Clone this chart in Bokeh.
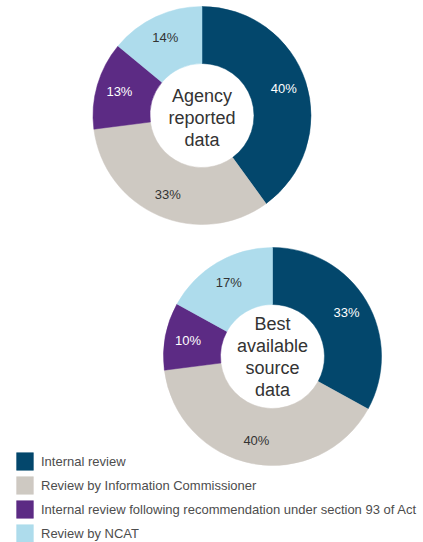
import numpy as np
from bokeh.plotting import figure
from bokeh.models import Range1d, ColumnDataSource, Legend, LegendItem
from bokeh.core.properties import value
from bokeh.embed import file_html
from bokeh.resources import INLINE

# ---- data ----
categories = [
    "Internal review",
    "Review by Information Commissioner",
    "Internal review following recommendation under section 93 of Act",
    "Review by NCAT",
]
agency_values = [40, 33, 13, 14]
best_values = [33, 40, 10, 17]
agency_title = "Agency\nreported\ndata"
best_title = "Best\navailable\nsource\ndata"

# ---- styles ----
colors = ["#03476C", "#CEC9C2", "#5C2B84", "#AEDCEC"]
label_colors = ["#FFFFFF", "#333333", "#FFFFFF", "#333333"]
FONT = "Liberation Sans"
W, H = 423, 542
R_OUT, R_IN, R_LAB = 109, 52, 86

p = figure(width=W, height=H, x_range=Range1d(0, W), y_range=Range1d(0, H),
           output_backend="svg", toolbar_location=None, x_axis_type=None, y_axis_type=None,
           min_border=0, outline_line_color=None)
p.background_fill_color = "white"
p.border_fill_color = "white"


def donut(vals, cx, cy, title, title_dy=0):
    v = np.array(vals, dtype=float)
    frac = v / v.sum()
    cum = np.concatenate([[0.0], np.cumsum(frac)])
    start = np.pi / 2 - cum[:-1] * 2 * np.pi
    end = np.pi / 2 - cum[1:] * 2 * np.pi
    mid = (start + end) / 2
    src = ColumnDataSource(dict(
        start=start, end=end, color=colors, cat=categories,
        lx=cx + R_LAB * np.cos(mid), ly=cy + R_LAB * np.sin(mid),
        lab=[f"{x:g}%" for x in vals], lc=label_colors,
    ))
    r = p.annular_wedge(x=cx, y=cy, inner_radius=R_IN, outer_radius=R_OUT,
                        start_angle="start", end_angle="end", direction="clock",
                        fill_color="color", line_color="color", line_width=0.5, source=src)
    p.text(x="lx", y="ly", text="lab", text_color="lc", text_align="center",
           text_baseline="middle", text_font=value(FONT), text_font_size="13px", source=src)
    p.text(x=[cx], y=[cy + title_dy], text=[title], text_color="#333333", text_align="center",
           text_baseline="middle", text_font=value(FONT), text_font_size="18px",
           text_line_height=1.1)
    return r


r1 = donut(agency_values, 201.5, H - 115, agency_title, title_dy=-2)
r2 = donut(best_values, 272, H - 356, best_title)

items = [LegendItem(label=c, renderers=[r1], index=i) for i, c in enumerate(categories)]
legend = Legend(items=items, location=(14, -2), orientation="vertical",
                glyph_width=21, glyph_height=22, label_height=22, spacing=2,
                label_standoff=6, padding=0, margin=0,
                label_text_font=FONT, label_text_font_size="13px", label_text_color="#4d4d4d",
                background_fill_alpha=0, border_line_alpha=0)
p.add_layout(legend)

open("out.html", "w").write(file_html(p, INLINE))
